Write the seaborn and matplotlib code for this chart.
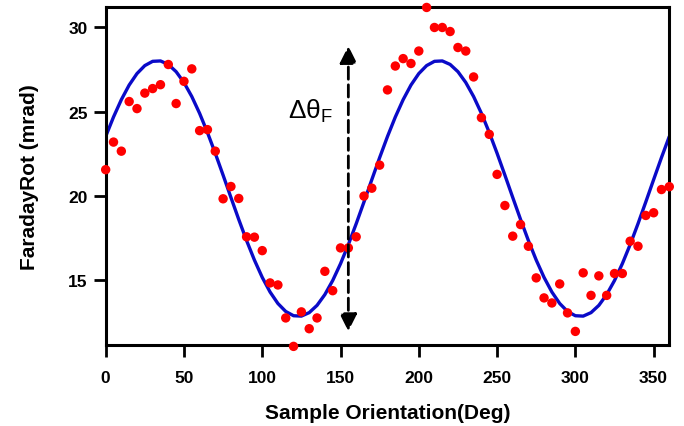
#!/usr/bin/env python3
"""Faraday rotation vs sample orientation, with sinusoidal fit."""

import matplotlib
matplotlib.use("Agg")
import matplotlib.pyplot as plt
import numpy as np
import pandas as pd
import seaborn as sns

# measured points, every 5 degrees
ANGLES = list(range(0, 365, 5))
ROTATION = [
    21.55, 23.19, 22.65, 25.60, 25.18, 26.10, 26.37, 26.60, 27.80, 25.48,
    26.80, 27.54, 23.87, 23.93, 22.65, 19.82, 20.55, 19.84, 17.56, 17.54,
    16.74, 14.82, 14.70, 12.74, 11.05, 13.10, 12.10, 12.74, 15.51, 14.36,
    16.90, 16.90, 17.56, 19.98, 20.45, 21.82, 26.29, 27.71, 28.15, 27.86,
    28.60, 31.19, 30.00, 30.00, 29.76, 28.81, 28.60, 27.06, 24.64, 23.65,
    21.27, 19.42, 17.60, 18.29, 17.00, 15.12, 13.93, 13.63, 14.76, 13.04,
    11.94, 15.42, 14.08, 15.24, 14.08, 15.38, 15.38, 17.30, 17.00, 18.83,
    18.99, 20.37, 20.54,
]

# fit parameters: offset + amp * cos(2 (x - peak))
FIT_OFFSET = 20.43
FIT_AMP = 7.6
FIT_PEAK = 33.0

X_TICKS = [0, 50, 100, 150, 200, 250, 300, 350]
Y_TICKS = [15, 20, 25, 30]

# double arrow marking the rotation swing
ARROW_X = 155
ARROW_Y = (11.95, 28.9)


def main() -> None:
    sns.set_style("ticks")
    plt.rcParams["font.family"] = ["Liberation Sans", "DejaVu Sans"]
    plt.rcParams["mathtext.fontset"] = "custom"
    plt.rcParams["mathtext.rm"] = "Liberation Sans"
    plt.rcParams["text.color"] = "black"
    plt.rcParams["axes.labelcolor"] = "black"
    plt.rcParams["xtick.color"] = "black"
    plt.rcParams["ytick.color"] = "black"

    df = pd.DataFrame({"angle": ANGLES, "rot": ROTATION})
    ang = np.array(ANGLES, dtype=float)
    df["fit"] = FIT_OFFSET + FIT_AMP * np.cos(np.deg2rad(2 * (ang - FIT_PEAK)))

    fig = plt.figure(figsize=(6.84, 4.27), dpi=100)
    ax = fig.add_axes([0.1545, 0.1904, 0.824, 0.7902])

    sns.scatterplot(data=df, x="angle", y="rot", ax=ax, color="#ff0000",
                    s=46, edgecolor="none", linewidth=0, zorder=3, clip_on=False)
    sns.lineplot(data=df, x="angle", y="fit", ax=ax, color="#0a0ac8",
                 linewidth=2.4, zorder=2)

    ax.annotate("", xy=(ARROW_X, ARROW_Y[1]), xytext=(ARROW_X, ARROW_Y[0]),
                arrowprops=dict(arrowstyle="<|-|>", linestyle=(0, (4.4, 2.0)),
                                color="black", lw=2.0, mutation_scale=26,
                                shrinkA=0, shrinkB=0))
    ax.text(116.5, 25.1, r"$\mathregular{\Delta\theta_F}$", fontsize=19,
            va="center", ha="left")

    ax.set_xlim(0, 360)
    ax.set_ylim(11.15, 31.2)
    ax.set_xticks(X_TICKS)
    ax.set_yticks(Y_TICKS)
    ax.set_xticklabels([str(t) for t in X_TICKS], fontsize=12.5, fontweight="bold")
    ax.set_yticklabels([str(t) for t in Y_TICKS], fontsize=12.5, fontweight="bold")
    ax.set_xlabel("Sample Orientation(Deg)", fontsize=15, fontweight="bold",
                  labelpad=13)
    ax.set_ylabel("FaradayRot (mrad)", fontsize=15, fontweight="bold",
                  labelpad=21)

    for spine in ax.spines.values():
        spine.set_visible(True)
        spine.set_linewidth(2.2)
        spine.set_color("black")
    ax.tick_params(axis="both", direction="out", length=8.5, width=2,
                   color="black")
    ax.tick_params(axis="x", pad=10)
    ax.tick_params(axis="y", pad=4.5)

    fig.savefig("out.png", dpi=100)
    plt.close(fig)


if __name__ == "__main__":
    main()
